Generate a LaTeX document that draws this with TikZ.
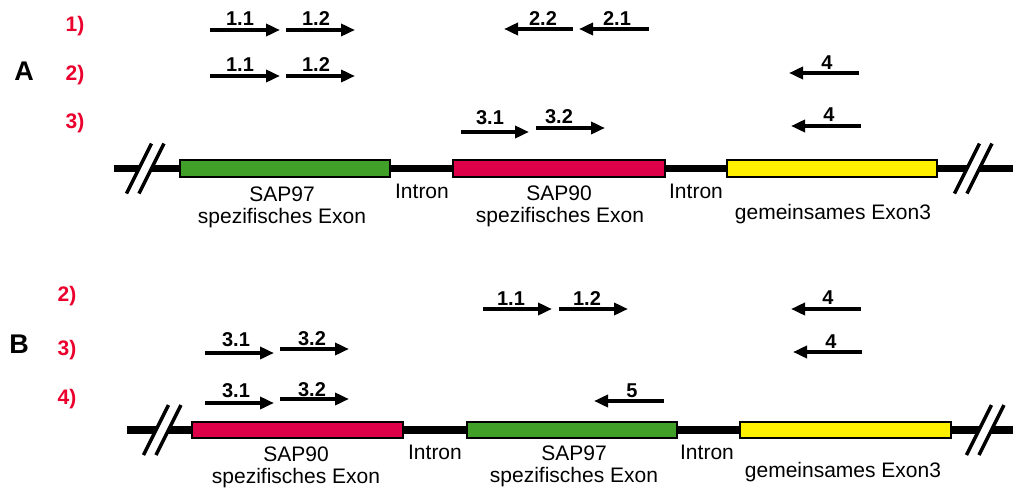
\documentclass[tikz,border=0pt]{standalone}
\usepackage{fontspec}
\setmainfont{Liberation Sans}
\usetikzlibrary{arrows.meta}
\definecolor{rowred}{RGB}{235,0,45}
\definecolor{exred}{RGB}{222,0,72}
\definecolor{exgreen}{RGB}{64,160,40}
\definecolor{exyellow}{RGB}{255,240,0}
\newcommand{\genebreak}[2]{%
  \fill[white] (#1-12.5,#2+25) -- (#1+12.5,#2-25) -- (#1+25,#2-25) -- (#1,#2+25) -- cycle;
  \draw[line width=3.5pt] (#1-12.5,#2+25) -- (#1+12.5,#2-25);
  \draw[line width=3.5pt] (#1,#2+25) -- (#1+25,#2-25);}
\begin{document}
\begin{tikzpicture}[x=1pt,y=-1pt,
  primer/.style={line width=4pt,-{Triangle[length=14pt,width=12pt]}},
  plabel/.style={anchor=base,inner sep=0pt,font=\fontsize{20}{23}\selectfont\bfseries},
  rowlab/.style={anchor=base,inner sep=0pt,text=rowred,font=\fontsize{21}{25}\selectfont\bfseries},
  panel/.style={anchor=base,inner sep=0pt,font=\fontsize{27}{32}\selectfont\bfseries},
  exon/.style={draw=black,line width=2pt},
  elabel/.style={anchor=base,inner sep=0pt,font=\fontsize{21}{25}\selectfont},
  backbone/.style={line width=7.5pt}]
\useasboundingbox (0,0) rectangle (1013,488);

% ---------------- Panel A ----------------
\node[panel] (A) at (24,80) {A};
\node[rowlab] (a1) at (75,31) {1)};
\node[rowlab] (a2) at (75,80) {2)};
\node[rowlab] (a3) at (75,128) {3)};

% row 1
\draw[primer] (210,30) -- (280,30);
\node[plabel] (a11) at (240,25) {1.1};
\draw[primer] (286,30) -- (355,30);
\node[plabel] (a12) at (316,25) {1.2};
\draw[primer] (573,29) -- (504,29);
\node[plabel] (a22) at (543,25) {2.2};
\draw[primer] (649,29) -- (579,29);
\node[plabel] (a21) at (617,25) {2.1};
% row 2
\draw[primer] (210,76) -- (280,76);
\node[plabel] (a211) at (240,71) {1.1};
\draw[primer] (286,76) -- (355,76);
\node[plabel] (a212) at (316,71) {1.2};
\draw[primer] (859,73) -- (789,73);
\node[plabel] (a24) at (827,69) {4};
% row 3
\draw[primer] (461,132) -- (529,132);
\node[plabel] (a31) at (490,124) {3.1};
\draw[primer] (536,128) -- (605,128);
\node[plabel] (a32) at (559,123) {3.2};
\draw[primer] (861,126) -- (791,126);
\node[plabel] (a34) at (829,121) {4};

% gene A
\draw[backbone] (114,168.5) -- (1013,168.5);
\genebreak{139}{168.5}
\genebreak{967}{168.5}
\draw[exon,fill=exgreen] (180,160) rectangle (390,177);
\draw[exon,fill=exred] (453,160) rectangle (665,177);
\draw[exon,fill=exyellow] (727,160) rectangle (937,177);
\node[elabel] (aSAP97) at (282,201) {SAP97};
\node[elabel] (aspez1) at (282,223) {spezifisches Exon};
\node[elabel] (aintr1) at (422,198) {Intron};
\node[elabel] (aSAP90) at (559,200) {SAP90};
\node[elabel] (aspez2) at (560,222) {spezifisches Exon};
\node[elabel] (aintr2) at (696,198) {Intron};
\node[elabel] (agem) at (833,219) {gemeinsames Exon3};

% ---------------- Panel B ----------------
\node[panel] (B) at (19,353) {B};
\node[rowlab] (b2) at (67,301) {2)};
\node[rowlab] (b3) at (67,355) {3)};
\node[rowlab] (b4) at (67,404) {4)};

% row 2
\draw[primer] (483,309) -- (552,309);
\node[plabel] (b11) at (511,305) {1.1};
\draw[primer] (559,309) -- (628,309);
\node[plabel] (b12) at (587,305) {1.2};
\draw[primer] (861,309) -- (791,309);
\node[plabel] (b24) at (828,304) {4};
% row 3
\draw[primer] (205,353) -- (274,353);
\node[plabel] (b31) at (236,346) {3.1};
\draw[primer] (280,349) -- (349,349);
\node[plabel] (b32) at (312,345) {3.2};
\draw[primer] (862,352) -- (793,352);
\node[plabel] (b34) at (831,348) {4};
% row 4
\draw[primer] (205,403) -- (274,403);
\node[plabel] (b431) at (236,397) {3.1};
\draw[primer] (280,399) -- (349,399);
\node[plabel] (b432) at (312,396) {3.2};
\draw[primer] (664,401) -- (594,401);
\node[plabel] (b45) at (632,397) {5};

% gene B
\draw[backbone] (127,430) -- (1013,430);
\genebreak{156}{430}
\genebreak{979}{430}
\draw[exon,fill=exred] (192,422) rectangle (403,438);
\draw[exon,fill=exgreen] (467,422) rectangle (677,438);
\draw[exon,fill=exyellow] (740,422) rectangle (951,438);
\node[elabel] (bSAP90) at (296,461) {SAP90};
\node[elabel] (bspez1) at (296,483) {spezifisches Exon};
\node[elabel] (bintr1) at (435,459) {Intron};
\node[elabel] (bSAP97) at (574,460) {SAP97};
\node[elabel] (bspez2) at (574,482) {spezifisches Exon};
\node[elabel] (bintr2) at (707,459) {Intron};
\node[elabel] (bgem) at (843,477) {gemeinsames Exon3};
\end{tikzpicture}
\end{document}
